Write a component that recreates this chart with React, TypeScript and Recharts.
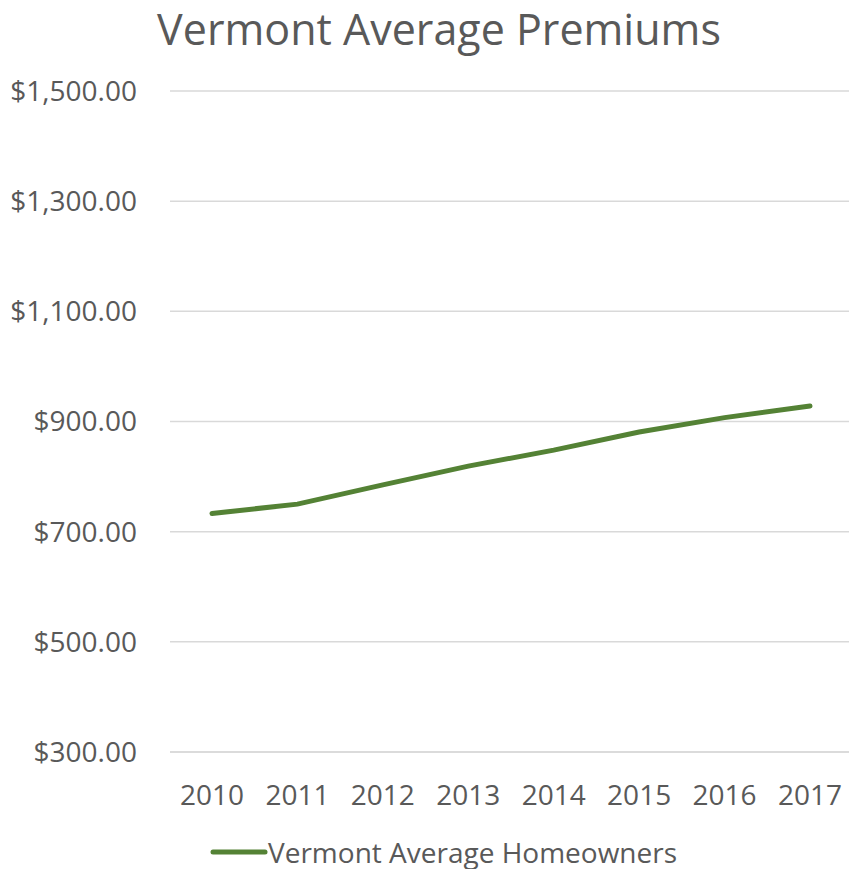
import React from 'react';
import { LineChart, Line, XAxis, YAxis, CartesianGrid, Legend } from 'recharts';

const years = ['2010', '2011', '2012', '2013', '2014', '2015', '2016', '2017'];
const premiums = [733, 750, 785, 819, 848, 881, 907, 928];
const yTicks = [300, 500, 700, 900, 1100, 1300, 1500];
const seriesName = 'Vermont Average Homeowners';
const title = 'Vermont Average Premiums';

const data = years.map((y, i) => ({ year: y, value: premiums[i] }));

const FONT = '"Open Sans", sans-serif';
const TEXT = '#595959';
const GREEN = '#548235';

const fmt = (v: number) =>
  '$' + v.toLocaleString('en-US', { minimumFractionDigits: 2, maximumFractionDigits: 2 });

const LegendContent = () => (
  <div style={{ display: 'flex', alignItems: 'center', fontFamily: FONT, fontSize: 28, color: TEXT, height: 35 }}>
    <svg width={58} height={10} style={{ marginRight: 0 }}>
      <line x1={3} y1={5} x2={55} y2={5} stroke={GREEN} strokeWidth={5} strokeLinecap="round" />
    </svg>
    <span>{seriesName}</span>
  </div>
);

export default function App() {
  return (
    <div style={{ position: 'absolute', left: 0, top: 0, width: 852, height: 869, background: '#fff', overflow: 'hidden' }}>
      <div
        style={{
          position: 'absolute',
          left: 99,
          top: 1,
          width: 680,
          textAlign: 'center',
          fontFamily: FONT,
          fontSize: 43,
          color: TEXT,
          lineHeight: '56px',
          whiteSpace: 'nowrap',
        }}
      >
        {title}
      </div>
      <LineChart width={852} height={869} data={data} margin={{ top: 91, right: 0, bottom: 22, left: 0 }}>
        <CartesianGrid vertical={false} stroke="#d9d9d9" strokeWidth={1.5} />
        <XAxis
          dataKey="year"
          axisLine={{ stroke: '#d9d9d9', strokeWidth: 1.5 }}
          tickLine={false}
          tickSize={0}
          tickMargin={33}
          padding={{ left: 42, right: 42 }}
          tick={{ fill: TEXT, fontFamily: FONT, fontSize: 28 }}
          height={60}
        />
        <YAxis
          domain={[300, 1500]}
          ticks={yTicks}
          tickFormatter={fmt}
          axisLine={false}
          tickLine={false}
          tickSize={0}
          tickMargin={33}
          width={170}
          tick={{ fill: TEXT, fontFamily: FONT, fontSize: 28 }}
        />
        <Line
          type="linear"
          dataKey="value"
          name={seriesName}
          stroke={GREEN}
          strokeWidth={5}
          strokeLinecap="round"
          dot={false}
          isAnimationActive={false}
        />
        <Legend
          content={<LegendContent />}
          wrapperStyle={{ position: 'absolute', left: 210, top: 834, width: 600, bottom: 'auto' }}
        />
      </LineChart>
    </div>
  );
}
